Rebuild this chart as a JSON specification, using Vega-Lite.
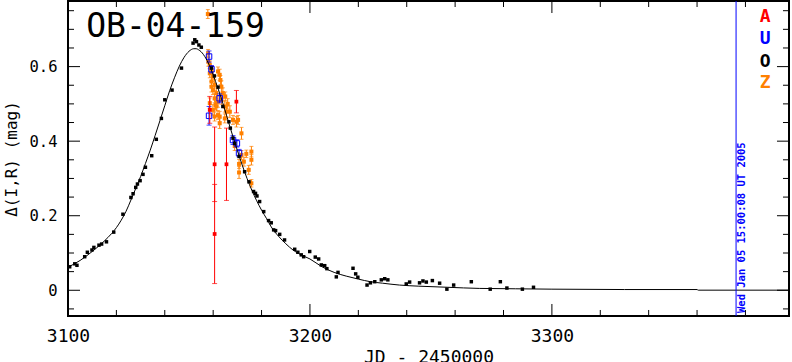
{
  "$schema": "https://vega.github.io/schema/vega-lite/v6.json",
  "autosize": {"type": "none"},
  "padding": {"left": 68, "top": 1, "right": 3, "bottom": 46},
  "width": 721,
  "height": 315,
  "background": "white",
  "config": {"view": {"stroke": "black", "strokeWidth": 2}},
  "datasets": {
    "xmajor": [{"v": 3100}, {"v": 3200}, {"v": 3300}],
    "xminor": [{"v": 3120}, {"v": 3140}, {"v": 3160}, {"v": 3180}, {"v": 3220}, {"v": 3240}, {"v": 3260}, {"v": 3280}, {"v": 3320}, {"v": 3340}, {"v": 3360}, {"v": 3380}],
    "ymajor": [{"v": 0}, {"v": 0.2}, {"v": 0.4}, {"v": 0.6}],
    "yminor": [{"v": -0.05}, {"v": 0.05}, {"v": 0.1}, {"v": 0.15}, {"v": 0.25}, {"v": 0.3}, {"v": 0.35}, {"v": 0.45}, {"v": 0.5}, {"v": 0.55}, {"v": 0.65}, {"v": 0.7}, {"v": 0.75}],
    "model": [
      {"jd": 3100, "mag": 0.062}, {"jd": 3105, "mag": 0.080}, {"jd": 3110, "mag": 0.104}, {"jd": 3115, "mag": 0.132},
      {"jd": 3118, "mag": 0.152}, {"jd": 3120, "mag": 0.168}, {"jd": 3122, "mag": 0.188}, {"jd": 3124, "mag": 0.212},
      {"jd": 3126, "mag": 0.242}, {"jd": 3128, "mag": 0.273}, {"jd": 3130, "mag": 0.305}, {"jd": 3132, "mag": 0.340},
      {"jd": 3134, "mag": 0.376}, {"jd": 3136, "mag": 0.415}, {"jd": 3138, "mag": 0.455}, {"jd": 3140, "mag": 0.495},
      {"jd": 3142, "mag": 0.535}, {"jd": 3144, "mag": 0.570}, {"jd": 3146, "mag": 0.601}, {"jd": 3148, "mag": 0.625},
      {"jd": 3150, "mag": 0.641}, {"jd": 3152, "mag": 0.648}, {"jd": 3153, "mag": 0.648}, {"jd": 3154, "mag": 0.645},
      {"jd": 3155, "mag": 0.640}, {"jd": 3157, "mag": 0.622}, {"jd": 3159, "mag": 0.595}, {"jd": 3161, "mag": 0.560},
      {"jd": 3164, "mag": 0.502}, {"jd": 3167, "mag": 0.437}, {"jd": 3170, "mag": 0.375}, {"jd": 3172, "mag": 0.336},
      {"jd": 3174, "mag": 0.300}, {"jd": 3176, "mag": 0.268}, {"jd": 3178, "mag": 0.240}, {"jd": 3180, "mag": 0.215},
      {"jd": 3182, "mag": 0.193}, {"jd": 3184, "mag": 0.170}, {"jd": 3187, "mag": 0.145}, {"jd": 3190, "mag": 0.125},
      {"jd": 3193, "mag": 0.108}, {"jd": 3196, "mag": 0.096}, {"jd": 3200, "mag": 0.084}, {"jd": 3205, "mag": 0.063},
      {"jd": 3210, "mag": 0.048}, {"jd": 3215, "mag": 0.038}, {"jd": 3220, "mag": 0.030}, {"jd": 3225, "mag": 0.023},
      {"jd": 3230, "mag": 0.019}, {"jd": 3237, "mag": 0.014}, {"jd": 3245, "mag": 0.011}, {"jd": 3257, "mag": 0.008},
      {"jd": 3270, "mag": 0.005}, {"jd": 3285, "mag": 0.004}, {"jd": 3300, "mag": 0.003}, {"jd": 3330, "mag": 0.002},
      {"jd": 3360, "mag": 0.002}, {"jd": 3360.5, "mag": 0.0003}, {"jd": 3398, "mag": 0.0003}
    ],
    "ogle": [
      {"jd": 3100.7, "mag": 0.063}, {"jd": 3102.8, "mag": 0.071}, {"jd": 3103.7, "mag": 0.067}, {"jd": 3106.9, "mag": 0.090},
      {"jd": 3108.0, "mag": 0.102}, {"jd": 3109.9, "mag": 0.108}, {"jd": 3110.7, "mag": 0.115}, {"jd": 3112.8, "mag": 0.121},
      {"jd": 3113.9, "mag": 0.124}, {"jd": 3115.9, "mag": 0.130}, {"jd": 3118.9, "mag": 0.156}, {"jd": 3122.7, "mag": 0.204},
      {"jd": 3126.0, "mag": 0.249}, {"jd": 3126.9, "mag": 0.259}, {"jd": 3128.0, "mag": 0.276}, {"jd": 3128.7, "mag": 0.285},
      {"jd": 3129.8, "mag": 0.294}, {"jd": 3131.0, "mag": 0.311}, {"jd": 3132.0, "mag": 0.330}, {"jd": 3134.6, "mag": 0.361},
      {"jd": 3136.5, "mag": 0.405}, {"jd": 3138.6, "mag": 0.461}, {"jd": 3140.0, "mag": 0.511}, {"jd": 3143.0, "mag": 0.537},
      {"jd": 3146.9, "mag": 0.596}, {"jd": 3151.7, "mag": 0.663}, {"jd": 3152.4, "mag": 0.672}, {"jd": 3153.1, "mag": 0.667},
      {"jd": 3154.1, "mag": 0.658}, {"jd": 3155.1, "mag": 0.652}, {"jd": 3159.3, "mag": 0.596}, {"jd": 3160.5, "mag": 0.575},
      {"jd": 3162.0, "mag": 0.545}, {"jd": 3164.0, "mag": 0.493}, {"jd": 3166.5, "mag": 0.452}, {"jd": 3167.1, "mag": 0.435},
      {"jd": 3168.2, "mag": 0.408}, {"jd": 3168.9, "mag": 0.394}, {"jd": 3170.7, "mag": 0.359}, {"jd": 3173.0, "mag": 0.318},
      {"jd": 3174.8, "mag": 0.291}, {"jd": 3176.7, "mag": 0.265}, {"jd": 3177.5, "mag": 0.260}, {"jd": 3178.1, "mag": 0.253},
      {"jd": 3179.2, "mag": 0.238}, {"jd": 3180.9, "mag": 0.211}, {"jd": 3182.9, "mag": 0.187}, {"jd": 3184.0, "mag": 0.181},
      {"jd": 3185.0, "mag": 0.162}, {"jd": 3185.8, "mag": 0.160}, {"jd": 3187.5, "mag": 0.150}, {"jd": 3189.5, "mag": 0.135},
      {"jd": 3193.7, "mag": 0.110}, {"jd": 3195.0, "mag": 0.102}, {"jd": 3196.4, "mag": 0.095}, {"jd": 3197.4, "mag": 0.090},
      {"jd": 3199.9, "mag": 0.104}, {"jd": 3202.2, "mag": 0.089}, {"jd": 3203.6, "mag": 0.084}, {"jd": 3204.7, "mag": 0.068},
      {"jd": 3206.1, "mag": 0.066}, {"jd": 3207.0, "mag": 0.058}, {"jd": 3210.9, "mag": 0.036}, {"jd": 3211.6, "mag": 0.048},
      {"jd": 3217.8, "mag": 0.059}, {"jd": 3218.9, "mag": 0.044}, {"jd": 3219.8, "mag": 0.035}, {"jd": 3223.6, "mag": 0.014},
      {"jd": 3225.0, "mag": 0.020}, {"jd": 3226.8, "mag": 0.023}, {"jd": 3229.5, "mag": 0.028}, {"jd": 3230.9, "mag": 0.031},
      {"jd": 3232.2, "mag": 0.028}, {"jd": 3239.8, "mag": 0.017}, {"jd": 3241.2, "mag": 0.022}, {"jd": 3245.3, "mag": 0.020},
      {"jd": 3246.7, "mag": 0.025}, {"jd": 3248.1, "mag": 0.022}, {"jd": 3250.6, "mag": 0.026}, {"jd": 3253.6, "mag": 0.019},
      {"jd": 3256.6, "mag": 0.003}, {"jd": 3259.4, "mag": 0.014}, {"jd": 3266.7, "mag": 0.023}, {"jd": 3274.5, "mag": 0.003},
      {"jd": 3278.7, "mag": 0.023}, {"jd": 3281.4, "mag": 0.006}, {"jd": 3287.8, "mag": 0.003}, {"jd": 3292.4, "mag": 0.008}
    ],
    "z": [
      {"jd": 3157.8, "mag": 0.741, "lo": 0.729, "hi": 0.753}, {"jd": 3157.9, "mag": 0.636, "lo": 0.626, "hi": 0.646},
      {"jd": 3158.0, "mag": 0.613, "lo": 0.601, "hi": 0.625}, {"jd": 3158.6, "mag": 0.605, "lo": 0.595, "hi": 0.615},
      {"jd": 3159.3, "mag": 0.591, "lo": 0.579, "hi": 0.603}, {"jd": 3159.9, "mag": 0.573, "lo": 0.559, "hi": 0.587},
      {"jd": 3159.3, "mag": 0.560, "lo": 0.548, "hi": 0.572}, {"jd": 3160.6, "mag": 0.551, "lo": 0.536, "hi": 0.566},
      {"jd": 3159.9, "mag": 0.537, "lo": 0.525, "hi": 0.549}, {"jd": 3161.3, "mag": 0.529, "lo": 0.515, "hi": 0.543},
      {"jd": 3160.6, "mag": 0.515, "lo": 0.503, "hi": 0.527}, {"jd": 3162.0, "mag": 0.506, "lo": 0.491, "hi": 0.521},
      {"jd": 3161.0, "mag": 0.497, "lo": 0.485, "hi": 0.509}, {"jd": 3162.7, "mag": 0.578, "lo": 0.563, "hi": 0.593},
      {"jd": 3163.0, "mag": 0.564, "lo": 0.552, "hi": 0.576}, {"jd": 3163.4, "mag": 0.546, "lo": 0.530, "hi": 0.562},
      {"jd": 3164.0, "mag": 0.529, "lo": 0.515, "hi": 0.543}, {"jd": 3163.4, "mag": 0.511, "lo": 0.499, "hi": 0.523},
      {"jd": 3164.8, "mag": 0.493, "lo": 0.478, "hi": 0.508}, {"jd": 3165.5, "mag": 0.479, "lo": 0.465, "hi": 0.493},
      {"jd": 3166.9, "mag": 0.479, "lo": 0.463, "hi": 0.495}, {"jd": 3162.0, "mag": 0.470, "lo": 0.458, "hi": 0.482},
      {"jd": 3162.7, "mag": 0.466, "lo": 0.452, "hi": 0.480}, {"jd": 3164.8, "mag": 0.461, "lo": 0.449, "hi": 0.473},
      {"jd": 3159.9, "mag": 0.484, "lo": 0.470, "hi": 0.498}, {"jd": 3160.6, "mag": 0.466, "lo": 0.454, "hi": 0.478},
      {"jd": 3158.6, "mag": 0.502, "lo": 0.488, "hi": 0.516}, {"jd": 3168.2, "mag": 0.457, "lo": 0.445, "hi": 0.469},
      {"jd": 3169.6, "mag": 0.452, "lo": 0.438, "hi": 0.466}, {"jd": 3170.3, "mag": 0.457, "lo": 0.445, "hi": 0.469},
      {"jd": 3171.7, "mag": 0.421, "lo": 0.405, "hi": 0.437}, {"jd": 3162.0, "mag": 0.587, "lo": 0.575, "hi": 0.599},
      {"jd": 3158.6, "mag": 0.582, "lo": 0.570, "hi": 0.594}, {"jd": 3159.3, "mag": 0.546, "lo": 0.532, "hi": 0.560},
      {"jd": 3161.3, "mag": 0.493, "lo": 0.481, "hi": 0.505}, {"jd": 3162.7, "mag": 0.448, "lo": 0.434, "hi": 0.462},
      {"jd": 3166.0, "mag": 0.500, "lo": 0.486, "hi": 0.514}, {"jd": 3165.0, "mag": 0.520, "lo": 0.508, "hi": 0.532},
      {"jd": 3168.9, "mag": 0.387, "lo": 0.375, "hi": 0.399}, {"jd": 3171.7, "mag": 0.363, "lo": 0.351, "hi": 0.375},
      {"jd": 3173.7, "mag": 0.366, "lo": 0.356, "hi": 0.376}, {"jd": 3175.8, "mag": 0.372, "lo": 0.358, "hi": 0.386},
      {"jd": 3170.7, "mag": 0.339, "lo": 0.327, "hi": 0.351}, {"jd": 3172.7, "mag": 0.345, "lo": 0.333, "hi": 0.357},
      {"jd": 3175.8, "mag": 0.350, "lo": 0.336, "hi": 0.364}, {"jd": 3170.7, "mag": 0.316, "lo": 0.300, "hi": 0.332},
      {"jd": 3174.7, "mag": 0.323, "lo": 0.311, "hi": 0.335}, {"jd": 3175.8, "mag": 0.287, "lo": 0.277, "hi": 0.297}
    ],
    "u": [
      {"jd": 3158.3, "mag": 0.468, "lo": 0.443, "hi": 0.493}, {"jd": 3158.3, "mag": 0.627, "lo": 0.612, "hi": 0.642},
      {"jd": 3159.3, "mag": 0.593, "lo": 0.583, "hi": 0.603}, {"jd": 3162.7, "mag": 0.515, "lo": 0.503, "hi": 0.527},
      {"jd": 3168.2, "mag": 0.403, "lo": 0.391, "hi": 0.415}, {"jd": 3169.8, "mag": 0.394, "lo": 0.384, "hi": 0.404},
      {"jd": 3170.7, "mag": 0.368, "lo": 0.358, "hi": 0.378}
    ],
    "a": [
      {"jd": 3158.6, "mag": 0.484, "lo": 0.448, "hi": 0.520}, {"jd": 3169.6, "mag": 0.506, "lo": 0.476, "hi": 0.536},
      {"jd": 3160.6, "mag": 0.338, "lo": 0.238, "hi": 0.438}, {"jd": 3160.6, "mag": 0.151, "lo": 0.018, "hi": 0.284},
      {"jd": 3165.5, "mag": 0.338, "lo": 0.241, "hi": 0.435}
    ],
    "one": [{}]
  },
  "layer": [
    {
      "data": {"name": "z"},
      "mark": {"type": "rule", "color": "#ff8000", "strokeWidth": 1},
      "encoding": {
        "x": {"field": "jd", "type": "quantitative", "scale": {"domain": [3100, 3398], "nice": false, "zero": false}, "axis": {
          "orient": "bottom", "grid": false, "values": [3100, 3200, 3300], "format": "d", "domain": false, "offset": -12,
          "tickSize": 12, "tickOpacity": 0,
          "labelFont": "DejaVu Sans Mono", "labelFontSize": 18, "labelColor": "black", "labelPadding": 11,
          "labelFlush": false, "labelOverlap": false,
          "title": "JD - 2450000", "titleFont": "DejaVu Sans Mono", "titleFontSize": 18, "titleFontWeight": "normal", "titleColor": "black", "titlePadding": 3
        }},
        "y": {"field": "lo", "type": "quantitative", "scale": {"domain": [-0.069, 0.776], "nice": false, "zero": false}, "axis": {
          "orient": "left", "grid": false, "values": [0, 0.2, 0.4, 0.6], "format": ".1~f", "domain": false, "offset": -12,
          "tickSize": 12, "tickOpacity": 0,
          "labelFont": "DejaVu Sans Mono", "labelFontSize": 15.5, "labelColor": "black", "labelPadding": 11,
          "labelFlush": false, "labelOverlap": false,
          "title": "Δ(I,R) (mag)", "titleFont": "DejaVu Sans Mono", "titleFontSize": 16, "titleFontWeight": "normal", "titleColor": "black", "titlePadding": 10
        }},
        "y2": {"field": "hi"}
      }
    },
    {
      "data": {"name": "xmajor"},
      "mark": {"type": "rule", "color": "black", "strokeWidth": 1},
      "encoding": {"x": {"field": "v", "type": "quantitative"}, "y": {"datum": -0.069, "type": "quantitative"}, "y2": {"datum": -0.0368}}
    },
    {
      "data": {"name": "xmajor"},
      "mark": {"type": "rule", "color": "black", "strokeWidth": 1},
      "encoding": {"x": {"field": "v", "type": "quantitative"}, "y": {"datum": 0.776, "type": "quantitative"}, "y2": {"datum": 0.7438}}
    },
    {
      "data": {"name": "xminor"},
      "mark": {"type": "rule", "color": "black", "strokeWidth": 1},
      "encoding": {"x": {"field": "v", "type": "quantitative"}, "y": {"datum": -0.069, "type": "quantitative"}, "y2": {"datum": -0.0529}}
    },
    {
      "data": {"name": "xminor"},
      "mark": {"type": "rule", "color": "black", "strokeWidth": 1},
      "encoding": {"x": {"field": "v", "type": "quantitative"}, "y": {"datum": 0.776, "type": "quantitative"}, "y2": {"datum": 0.7599}}
    },
    {
      "data": {"name": "ymajor"},
      "mark": {"type": "rule", "color": "black", "strokeWidth": 1},
      "encoding": {"y": {"field": "v", "type": "quantitative"}, "x": {"datum": 3100, "type": "quantitative"}, "x2": {"datum": 3104.96}}
    },
    {
      "data": {"name": "ymajor"},
      "mark": {"type": "rule", "color": "black", "strokeWidth": 1},
      "encoding": {"y": {"field": "v", "type": "quantitative"}, "x": {"datum": 3398, "type": "quantitative"}, "x2": {"datum": 3393.04}}
    },
    {
      "data": {"name": "yminor"},
      "mark": {"type": "rule", "color": "black", "strokeWidth": 1},
      "encoding": {"y": {"field": "v", "type": "quantitative"}, "x": {"datum": 3100, "type": "quantitative"}, "x2": {"datum": 3102.48}}
    },
    {
      "data": {"name": "yminor"},
      "mark": {"type": "rule", "color": "black", "strokeWidth": 1},
      "encoding": {"y": {"field": "v", "type": "quantitative"}, "x": {"datum": 3398, "type": "quantitative"}, "x2": {"datum": 3395.52}}
    },
    {
      "data": {"name": "z"},
      "mark": {"type": "tick", "orient": "horizontal", "color": "#ff8000", "size": 4, "thickness": 1},
      "encoding": {"x": {"field": "jd", "type": "quantitative"}, "y": {"field": "lo", "type": "quantitative"}}
    },
    {
      "data": {"name": "z"},
      "mark": {"type": "tick", "orient": "horizontal", "color": "#ff8000", "size": 4, "thickness": 1},
      "encoding": {"x": {"field": "jd", "type": "quantitative"}, "y": {"field": "hi", "type": "quantitative"}}
    },
    {
      "data": {"name": "z"},
      "mark": {"type": "point", "shape": "square", "filled": true, "color": "#ff8000", "size": 16, "opacity": 1},
      "encoding": {"x": {"field": "jd", "type": "quantitative"}, "y": {"field": "mag", "type": "quantitative"}}
    },
    {
      "data": {"name": "u"},
      "mark": {"type": "rule", "color": "#0000ff", "strokeWidth": 1},
      "encoding": {"x": {"field": "jd", "type": "quantitative"}, "y": {"field": "lo", "type": "quantitative"}, "y2": {"field": "hi"}}
    },
    {
      "data": {"name": "u"},
      "mark": {"type": "tick", "orient": "horizontal", "color": "#0000ff", "size": 5, "thickness": 1},
      "encoding": {"x": {"field": "jd", "type": "quantitative"}, "y": {"field": "lo", "type": "quantitative"}}
    },
    {
      "data": {"name": "u"},
      "mark": {"type": "tick", "orient": "horizontal", "color": "#0000ff", "size": 5, "thickness": 1},
      "encoding": {"x": {"field": "jd", "type": "quantitative"}, "y": {"field": "hi", "type": "quantitative"}}
    },
    {
      "data": {"name": "u"},
      "mark": {"type": "point", "shape": "square", "filled": false, "color": "#0000ff", "size": 30, "strokeWidth": 1, "opacity": 1},
      "encoding": {"x": {"field": "jd", "type": "quantitative"}, "y": {"field": "mag", "type": "quantitative"}}
    },
    {
      "data": {"name": "a"},
      "mark": {"type": "rule", "color": "#ff0000", "strokeWidth": 1},
      "encoding": {"x": {"field": "jd", "type": "quantitative"}, "y": {"field": "lo", "type": "quantitative"}, "y2": {"field": "hi"}}
    },
    {
      "data": {"name": "a"},
      "mark": {"type": "tick", "orient": "horizontal", "color": "#ff0000", "size": 5, "thickness": 1},
      "encoding": {"x": {"field": "jd", "type": "quantitative"}, "y": {"field": "lo", "type": "quantitative"}}
    },
    {
      "data": {"name": "a"},
      "mark": {"type": "tick", "orient": "horizontal", "color": "#ff0000", "size": 5, "thickness": 1},
      "encoding": {"x": {"field": "jd", "type": "quantitative"}, "y": {"field": "hi", "type": "quantitative"}}
    },
    {
      "data": {"name": "a"},
      "mark": {"type": "point", "shape": "square", "filled": true, "color": "#ff0000", "size": 14, "opacity": 1},
      "encoding": {"x": {"field": "jd", "type": "quantitative"}, "y": {"field": "mag", "type": "quantitative"}}
    },
    {
      "data": {"name": "model"},
      "mark": {"type": "line", "color": "black", "strokeWidth": 1, "interpolate": "monotone"},
      "encoding": {"x": {"field": "jd", "type": "quantitative"}, "y": {"field": "mag", "type": "quantitative"}}
    },
    {
      "data": {"name": "ogle"},
      "mark": {"type": "point", "shape": "square", "filled": true, "color": "black", "size": 12, "opacity": 1},
      "encoding": {"x": {"field": "jd", "type": "quantitative"}, "y": {"field": "mag", "type": "quantitative"}}
    },
    {
      "data": {"name": "one"},
      "mark": {"type": "rule", "color": "#0000ff", "strokeWidth": 1},
      "encoding": {"x": {"datum": 3376.125, "type": "quantitative"}}
    },
    {
      "data": {"name": "one"},
      "mark": {"type": "text", "text": "Wed Jan 05 15:00:08 UT 2005", "color": "#0000ff", "font": "DejaVu Sans Mono", "fontSize": 10.5, "fontWeight": "bold", "angle": 270, "align": "left", "baseline": "top", "dx": 3, "dy": 1},
      "encoding": {"x": {"datum": 3376.125, "type": "quantitative"}, "y": {"datum": -0.069, "type": "quantitative"}}
    },
    {
      "data": {"name": "one"},
      "mark": {"type": "text", "text": "OB-04-159", "color": "black", "font": "DejaVu Sans Mono", "fontSize": 33, "align": "left", "baseline": "alphabetic"},
      "encoding": {"x": {"datum": 3107.5, "type": "quantitative"}, "y": {"datum": 0.68, "type": "quantitative"}}
    },
    {
      "data": {"name": "one"},
      "mark": {"type": "text", "text": "A", "color": "#ff0000", "font": "DejaVu Sans Mono", "fontSize": 18, "fontWeight": "bold", "align": "center", "baseline": "middle"},
      "encoding": {"x": {"datum": 3388.1, "type": "quantitative"}, "y": {"datum": 0.7333, "type": "quantitative"}}
    },
    {
      "data": {"name": "one"},
      "mark": {"type": "text", "text": "U", "color": "#0000ff", "font": "DejaVu Sans Mono", "fontSize": 18, "fontWeight": "bold", "align": "center", "baseline": "middle"},
      "encoding": {"x": {"datum": 3388.1, "type": "quantitative"}, "y": {"datum": 0.6735, "type": "quantitative"}}
    },
    {
      "data": {"name": "one"},
      "mark": {"type": "text", "text": "O", "color": "black", "font": "DejaVu Sans Mono", "fontSize": 18, "fontWeight": "bold", "align": "center", "baseline": "middle"},
      "encoding": {"x": {"datum": 3388.1, "type": "quantitative"}, "y": {"datum": 0.6134, "type": "quantitative"}}
    },
    {
      "data": {"name": "one"},
      "mark": {"type": "text", "text": "Z", "color": "#ff8000", "font": "DejaVu Sans Mono", "fontSize": 18, "fontWeight": "bold", "align": "center", "baseline": "middle"},
      "encoding": {"x": {"datum": 3388.1, "type": "quantitative"}, "y": {"datum": 0.5562, "type": "quantitative"}}
    }
  ]
}
